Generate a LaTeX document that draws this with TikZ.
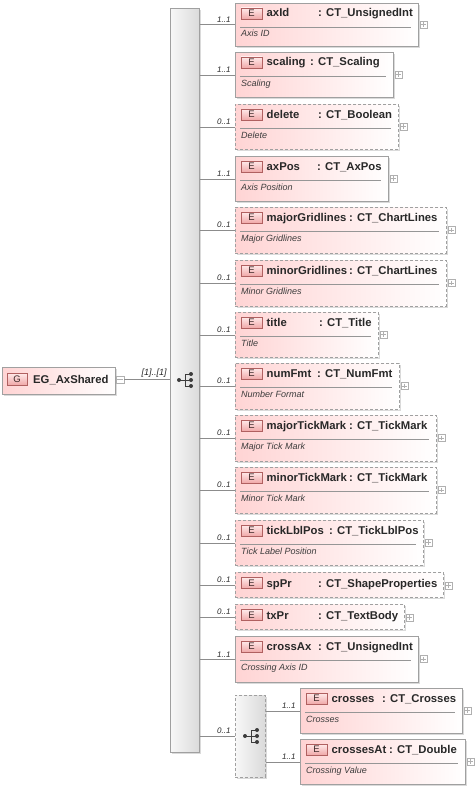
\documentclass[tikz,border=0pt]{standalone}
\usepackage{fontspec}
\setmainfont{Liberation Sans}
\definecolor{boxc}{RGB}{160,160,160}
\definecolor{pinkc}{RGB}{255,212,212}
\definecolor{shadc}{RGB}{218,218,218}
\definecolor{badgeb}{RGB}{176,96,96}
\definecolor{badget}{RGB}{255,234,234}
\definecolor{badgebot}{RGB}{240,168,168}
\definecolor{badgetext}{RGB}{60,40,40}
\definecolor{txtc}{RGB}{40,40,40}
\definecolor{descc}{RGB}{60,60,60}
\definecolor{connc}{RGB}{140,140,140}
\definecolor{sepc}{RGB}{150,150,150}
\definecolor{plusc}{RGB}{176,176,176}
\definecolor{barl}{RGB}{248,248,248}
\definecolor{barr}{RGB}{218,218,218}
\definecolor{iconc}{RGB}{60,60,60}
\tikzset{
  ebox/.style={draw=boxc, line width=0.9pt, left color=pinkc, right color=white, inner sep=0pt, anchor=north west},
  ebsolid/.style={ebox},
  ebdash/.style={ebox, dash pattern=on 3pt off 2pt},
  badge/.style={draw=badgeb, line width=0.9pt, top color=badget, bottom color=badgebot, minimum width=21pt, minimum height=11pt, inner sep=0pt, font=\fontsize{9.5}{10}\selectfont, text=badgetext},
  nametxt/.style={inner sep=0pt, anchor=base west, font=\bfseries\fontsize{11.3}{12}\selectfont, text=txtc},
  desctxt/.style={inner sep=0pt, anchor=base west, font=\itshape\fontsize{9}{10}\selectfont, text=descc},
  multtxt/.style={inner sep=0pt, anchor=south east, font=\itshape\fontsize{8}{9}\selectfont, text=txtc},
  conn/.style={draw=connc, line width=0.9pt},
  sepl/.style={draw=sepc, line width=0.8pt},
  plusbox/.style={draw=plusc, fill=white, minimum size=7pt, inner sep=0pt, line width=0.6pt},
  pluscross/.style={draw=plusc, line width=0.6pt},
  barbox/.style={draw=boxc, line width=0.9pt, left color=barl, right color=barr, inner sep=0pt, anchor=north west},
  grpbox/.style={barbox, dash pattern=on 3pt off 2pt},
}
\newcommand{\pluscr}[1]{%
  \draw[pluscross] ([xshift=1.5pt]#1.west) -- ([xshift=-1.5pt]#1.east)
                   ([yshift=-1.5pt]#1.north) -- ([yshift=1.5pt]#1.south);}
\newcommand{\elemtwo}[9]{%
  \fill[shadc] ({#1+2},{#2+2}) rectangle ({#3+2},{#4+2});
  \node[#5, minimum width={#3-#1}, minimum height={#4-#2}] (#6) at (#1,#2) {};
  \node[badge] (#6-b) at ({#1+16.5},{#2+10.5}) {E};
  \node[nametxt] (#6-n) at ({#1+31.5},{#2+14}) {#6};
  \node[nametxt] (#6-t) at (#7,{#2+14}) {: #8};
  \draw[sepl] ({#1+5},{#2+24}) -- ({#3-7},{#2+24});
  \node[desctxt] (#6-d) at ({#1+6},{#2+34}) {#9};
  \node[plusbox] (#6-p) at ({#3+5.5},{(#2+#4)/2}) {};
  \pluscr{#6-p}}
\newcommand{\elemone}[8]{%
  \fill[shadc] ({#1+2},{#2+2}) rectangle ({#3+2},{#4+2});
  \node[#5, minimum width={#3-#1}, minimum height={#4-#2}] (#6) at (#1,#2) {};
  \node[badge] (#6-b) at ({#1+16.5},{#2+11}) {E};
  \node[nametxt] (#6-n) at ({#1+31.5},{#2+15}) {#6};
  \node[nametxt] (#6-t) at (#7,{#2+15}) {: #8};
  \node[plusbox] (#6-p) at ({#3+5.5},{(#2+#4)/2+1}) {};
  \pluscr{#6-p}}
\newcommand{\seqicon}[2]{%
  \draw[iconc, line width=1pt] ({#1-7},#2) -- ({#1-1},#2)
     ({#1-1},{#2-6}) -- ({#1-1},{#2+6})
     ({#1-1},{#2-6}) -- ({#1+5},{#2-6})
     ({#1-1},#2) -- ({#1+5},#2)
     ({#1-1},{#2+6}) -- ({#1+5},{#2+6});
  \fill[iconc] ({#1-7},#2) circle (2pt) ({#1+5},{#2-6}) circle (2pt)
     ({#1+5},#2) circle (2pt) ({#1+5},{#2+6}) circle (2pt);}
\begin{document}
\begin{tikzpicture}[x=1pt,y=-1pt]
\useasboundingbox[fill=white] (0,0) rectangle (474,792);
% root
\fill[shadc] (4,369) rectangle (117,396);
\node[ebox, minimum width=113, minimum height=27] (root) at (2,367) {};
\node[badge, minimum width=20pt, minimum height=12pt] (root-b) at (17,379) {G};
\node[nametxt] (root-n) at (33,383) {EG\_AxShared};
\node[plusbox, minimum width=8pt, minimum height=7pt] (root-m) at (120,379.5) {};
\draw[pluscross] ([xshift=1.5pt]root-m.west) -- ([xshift=-1.5pt]root-m.east);
% bar
\fill[shadc] (172,10) rectangle (201,754);
\node[barbox, minimum width=29, minimum height=744] (bar) at (170,8) {};
\seqicon{186}{380}
\draw[conn] (root-m.east) -- (bar.west |- root-m.east) node[multtxt, pos=1, xshift=-3pt, yshift=2pt, font=\itshape\fontsize{9}{10}\selectfont] {[1]..[1]};
% elements
\elemtwo{235}{3}{418}{46}{ebsolid}{axId}{318}{CT\_UnsignedInt}{Axis ID}
\elemtwo{235}{52}{393}{97}{ebsolid}{scaling}{310}{CT\_Scaling}{Scaling}
\elemtwo{235}{104}{398}{149}{ebdash}{delete}{318}{CT\_Boolean}{Delete}
\elemtwo{235}{156}{388}{201}{ebsolid}{axPos}{317}{CT\_AxPos}{Axis Position}
\elemtwo{235}{207}{446}{253}{ebdash}{majorGridlines}{349}{CT\_ChartLines}{Major Gridlines}
\elemtwo{235}{260}{446}{306}{ebdash}{minorGridlines}{349}{CT\_ChartLines}{Minor Gridlines}
\elemtwo{235}{312}{378}{357}{ebdash}{title}{319}{CT\_Title}{Title}
\elemtwo{235}{363}{399}{409}{ebdash}{numFmt}{317}{CT\_NumFmt}{Number Format}
\elemtwo{235}{415}{436}{461}{ebdash}{majorTickMark}{349}{CT\_TickMark}{Major Tick Mark}
\elemtwo{235}{467}{436}{513}{ebdash}{minorTickMark}{349}{CT\_TickMark}{Minor Tick Mark}
\elemtwo{235}{520}{423}{565}{ebdash}{tickLblPos}{329}{CT\_TickLblPos}{Tick Label Position}
\elemone{235}{572}{443}{597}{ebdash}{spPr}{318}{CT\_ShapeProperties}
\elemone{235}{604}{404}{629}{ebdash}{txPr}{318}{CT\_TextBody}
\elemtwo{235}{636}{418}{682}{ebsolid}{crossAx}{318}{CT\_UnsignedInt}{Crossing Axis ID}
% group
\fill[shadc] (237,697) rectangle (267,779);
\node[grpbox, minimum width=30, minimum height=82] (grp) at (235,695) {};
\seqicon{252}{736}
\elemtwo{300}{688}{462}{733}{ebsolid}{crosses}{382}{CT\_Crosses}{Crosses}
\elemtwo{300}{739}{465}{784}{ebsolid}{crossesAt}{389}{CT\_Double}{Crossing Value}
% connectors
\draw[conn] (bar.east |- axId.west) -- (axId.west) node[multtxt, pos=1, xshift=-4pt, yshift=2pt] {1..1};
\draw[conn] (bar.east |- scaling.west) -- (scaling.west) node[multtxt, pos=1, xshift=-4pt, yshift=2pt] {1..1};
\draw[conn] (bar.east |- delete.west) -- (delete.west) node[multtxt, pos=1, xshift=-4pt, yshift=2pt] {0..1};
\draw[conn] (bar.east |- axPos.west) -- (axPos.west) node[multtxt, pos=1, xshift=-4pt, yshift=2pt] {1..1};
\draw[conn] (bar.east |- majorGridlines.west) -- (majorGridlines.west) node[multtxt, pos=1, xshift=-4pt, yshift=2pt] {0..1};
\draw[conn] (bar.east |- minorGridlines.west) -- (minorGridlines.west) node[multtxt, pos=1, xshift=-4pt, yshift=2pt] {0..1};
\draw[conn] (bar.east |- title.west) -- (title.west) node[multtxt, pos=1, xshift=-4pt, yshift=2pt] {0..1};
\draw[conn] (bar.east |- numFmt.west) -- (numFmt.west) node[multtxt, pos=1, xshift=-4pt, yshift=2pt] {0..1};
\draw[conn] (bar.east |- majorTickMark.west) -- (majorTickMark.west) node[multtxt, pos=1, xshift=-4pt, yshift=2pt] {0..1};
\draw[conn] (bar.east |- minorTickMark.west) -- (minorTickMark.west) node[multtxt, pos=1, xshift=-4pt, yshift=2pt] {0..1};
\draw[conn] (bar.east |- tickLblPos.west) -- (tickLblPos.west) node[multtxt, pos=1, xshift=-4pt, yshift=2pt] {0..1};
\draw[conn] (bar.east |- spPr.west) -- (spPr.west) node[multtxt, pos=1, xshift=-4pt, yshift=2pt] {0..1};
\draw[conn] (bar.east |- txPr.west) -- (txPr.west) node[multtxt, pos=1, xshift=-4pt, yshift=2pt] {0..1};
\draw[conn] (bar.east |- crossAx.west) -- (crossAx.west) node[multtxt, pos=1, xshift=-4pt, yshift=2pt] {1..1};
\draw[conn] (bar.east |- grp.west) -- (grp.west) node[multtxt, pos=1, xshift=-4pt, yshift=2pt] {0..1};
\draw[conn] (grp.east |- crosses.west) -- (crosses.west) node[multtxt, pos=1, xshift=-4pt, yshift=2pt] {1..1};
\draw[conn] (grp.east |- crossesAt.west) -- (crossesAt.west) node[multtxt, pos=1, xshift=-4pt, yshift=2pt] {1..1};
\end{tikzpicture}
\end{document}
